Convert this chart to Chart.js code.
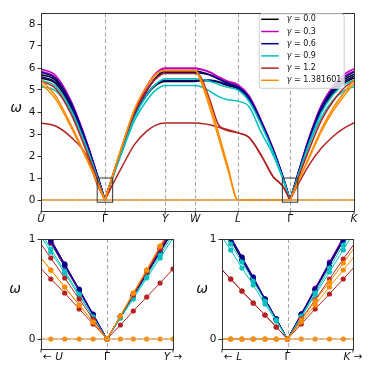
<!DOCTYPE html>
<html>
<head>
<meta charset="utf-8">
<script src="https://cdn.jsdelivr.net/npm/chart.js@4.4.1/dist/chart.umd.min.js"></script>
<style>
  body { margin: 0; background: #fff; }
  canvas { position: absolute; }
</style>
</head>
<body>
<canvas id="topChart" width="374" height="232" style="left:0;top:0"></canvas>
<canvas id="leftChart" width="187" height="146" style="left:0;top:228px"></canvas>
<canvas id="rightChart" width="187" height="146" style="left:187px;top:228px"></canvas>
<script>
// ---- labels / colours ----
const gammaLabels = ['0.0', '0.3', '0.6', '0.9', '1.2', '1.381601'];
const gammaColors = ['#000000', '#c000c0', '#00008b', '#00c0c0', '#b22222', '#ff8c00'];

// high symmetry points along the path
const symK = [0, 1.0607, 2.0607, 2.5607, 3.2678, 4.1338, 5.1945];
const symLabels = ['U', 'Γ', 'Y', 'W', 'L', 'Γ', 'K'];
const yTicksTop = [0, 1, 2, 3, 4, 5, 6, 7, 8];

// k grid of the full path (top panel)
const topK = [0, 0.25, 0.5, 0.75, 0.95, 1.03, 1.0607, 1.09, 1.16, 1.35, 1.55, 1.75, 1.9, 2.0607,
  2.5607, 2.65, 2.8, 2.95, 3.1, 3.2678, 3.45, 3.65, 3.85, 4.02, 4.10, 4.1338,
  4.165, 4.25, 4.45, 4.65, 4.85, 5.05, 5.1945];

// bands, two per gamma
const g00b1 = [5.71,5.42,4.33,2.62,0.97,0.28,0,0.25,0.84,2.4,3.95,4.95,5.55,5.86, 5.86,5.82,5.7,5.5,5.3,5.1, 4.62,3.55,2.3,1.0,0.3,0, 0.28,1.05,2.75,4.15,5.0,5.5,5.71];
const g00b2 = [5.55,5.27,4.2,2.55,0.95,0.27,0,0.24,0.82,2.3,3.8,4.75,5.2,5.39, 5.39,5.42,5.42,5.35,5.2,5.06, 4.58,3.5,2.27,0.99,0.3,0, 0.27,1.0,2.65,4.0,4.85,5.35,5.55];
const g03b1 = [5.96,5.64,4.5,2.72,1.0,0.28,0,0.25,0.86,2.45,4.05,5.15,5.75,6.0, 6.0,5.95,5.82,5.6,5.4,5.25, 4.75,3.65,2.35,1.02,0.31,0, 0.29,1.07,2.85,4.3,5.2,5.75,5.96];
const g03b2 = [5.86,5.55,4.43,2.68,0.99,0.27,0,0.25,0.85,2.42,4.0,5.1,5.7,5.97, 5.97,5.93,5.8,5.57,5.37,5.22, 4.7,3.6,2.33,1.01,0.3,0, 0.28,1.05,2.8,4.22,5.12,5.66,5.86];
const g06b1 = [5.81,5.5,4.4,2.66,0.99,0.28,0,0.25,0.84,2.4,3.95,4.95,5.5,5.78, 5.78,5.76,5.68,5.5,5.32,5.15, 4.68,3.6,2.32,1.0,0.3,0, 0.29,1.06,2.8,4.2,5.08,5.6,5.81];
const g06b2 = [5.62,5.33,4.27,2.6,0.97,0.27,0,0.24,0.83,2.35,3.85,4.8,5.25,5.43, 5.43,5.45,5.45,5.38,5.24,5.1, 4.6,3.52,2.28,0.99,0.3,0, 0.28,1.03,2.7,4.07,4.92,5.42,5.62];
const g09b1 = [5.45,5.15,4.1,2.45,0.89,0.25,0,0.24,0.8,2.3,3.75,4.75,5.25,5.51, 5.51,5.48,5.4,5.25,5.12,5.0, 4.5,3.45,2.2,0.95,0.28,0, 0.27,0.98,2.6,3.95,4.8,5.28,5.45];
const g09b2 = [5.15,4.95,4.0,2.42,0.88,0.25,0,0.23,0.78,2.2,3.6,4.5,4.98,5.2, 5.2,5.15,4.95,4.7,4.56,4.49, 4.25,3.1,2.05,0.9,0.27,0, 0.26,0.95,2.5,3.75,4.55,5.0,5.15];
const g12b1 = [5.40,5.05,3.9,2.25,0.82,0.23,0,0.25,0.85,2.45,3.95,4.95,5.5,5.75, 5.75,5.6,4.57,3.4,3.2,3.05, 2.85,2.05,1.07,0.6,0.18,0, 0.22,0.85,2.3,3.6,4.5,5.15,5.40];
const g12b2 = [3.5,3.35,2.85,2.05,0.6,0.17,0,0.15,0.55,1.54,2.52,3.12,3.39,3.5, 3.5,3.48,3.42,3.3,3.15,3.05, 2.85,2.05,1.07,0.6,0.18,0, 0.17,0.62,1.6,2.35,2.9,3.3,3.5];
const g13b1 = [5.45,4.7,3.4,1.95,0.69,0.19,0,0.26,0.87,2.5,4.1,5.15,5.7,5.89, 5.89,5.5,4.4,3.0,1.55,0, 0,0,0,0,0,0, 0.19,0.73,1.97,3.2,4.2,4.95,5.45];
const g13b2 = [5.3,4.55,3.3,1.9,0.69,0.19,0,0.26,0.87,2.5,4.1,5.15,5.7,5.89, 5.89,5.4,4.2,2.8,1.4,0, 0,0,0,0,0,0, 0.19,0.73,1.9,3.1,4.05,4.8,5.3];
const zeroTop = [0, 0];
const zeroTopK = [0, 5.1945];

// zoom near Gamma: U <- Gamma -> Y (k measured from Gamma)
const leftK = [-0.136, -0.109, -0.082, -0.054, -0.027, 0, 0.026, 0.051, 0.077, 0.103, 0.128, 0.154];
const lg00b1 = [1.22,.98,.74,.49,.24,0,.22,.44,.66,.89,1.10,1.32];
const lg00b2 = [1.20,.96,.72,.48,.24,0,.22,.43,.65,.87,1.08,1.29];
const lg03b1 = [1.24,.99,.75,.49,.25,0,.23,.45,.68,.91,1.13,1.36];
const lg03b2 = [1.21,.97,.73,.48,.24,0,.23,.45,.68,.91,1.13,1.36];
const lg06b1 = [1.25,1.0,.75,.50,.25,0,.22,.43,.65,.88,1.09,1.31];
const lg06b2 = [1.22,.98,.74,.49,.24,0,.22,.43,.65,.87,1.08,1.29];
const lg09b1 = [1.13,.90,.68,.45,.22,0,.21,.42,.63,.84,1.05,1.26];
const lg09b2 = [1.09,.87,.66,.43,.22,0,.21,.40,.61,.81,1.01,1.22];
const lg12b1 = [1.01,.81,.61,.40,.20,0,.23,.44,.67,.90,1.11,1.34];
const lg12b2 = [.75,.60,.46,.30,.15,0,.14,.28,.42,.56,.70,.84];
const lg13b1 = [.86,.69,.52,.34,.17,0,.23,.46,.69,.93,1.15,1.39];
const lg13b2 = [.86,.69,.52,.34,.17,0,.23,.46,.69,.93,1.15,1.39];
const leftZero = [0,0,0,0,0,0,0,0,0,0,0,0];

// zoom near Gamma: L <- Gamma -> K
const rightK = [-0.133, -0.111, -0.089, -0.067, -0.044, -0.022, 0, 0.027, 0.054, 0.082, 0.109, 0.136, 0.163];
const rg00b1 = [1.20,1.0,.80,.60,.40,.20,0,.25,.50,.75,1.0,1.25,1.5];
const rg00b2 = [1.18,.99,.79,.60,.39,.20,0,.24,.49,.74,.98,1.22,1.47];
const rg03b1 = [1.22,1.02,.82,.62,.40,.20,0,.25,.51,.77,1.02,1.28,1.53];
const rg03b2 = [1.21,1.01,.81,.61,.40,.20,0,.25,.50,.76,1.01,1.26,1.52];
const rg06b1 = [1.22,1.02,.82,.62,.40,.20,0,.25,.50,.76,1.01,1.26,1.52];
const rg06b2 = [1.2,1.0,.80,.60,.40,.20,0,.24,.49,.74,.98,1.22,1.47];
const rg09b1 = [1.14,.95,.77,.58,.38,.19,0,.23,.46,.71,.94,1.17,1.40];
const rg09b2 = [1.06,.89,.71,.54,.35,.18,0,.22,.44,.67,.89,1.12,1.34];
const rg12b1 = [.72,.60,.48,.36,.24,.12,0,.20,.39,.60,.80,.99,1.19];
const rg12b2 = [.72,.60,.48,.36,.24,.12,0,.15,.30,.45,.60,.75,.90];
const rg13b1 = [0,0,0,0,0,0,0,.17,.34,.52,.69,.86,1.03];
const rg13b2 = [0,0,0,0,0,0,0,.19,.38,.57,.76,.95,1.14];
const rightZero = [0,0,0,0,0,0,0,0,0,0,0,0,0];

const topBands = [[g00b1, g00b2], [g03b1, g03b2], [g06b1, g06b2], [g09b1, g09b2], [g12b1, g12b2], [g13b1, g13b2]];
const leftBands = [[lg00b1, lg00b2], [lg03b1, lg03b2], [lg06b1, lg06b2], [lg09b1, lg09b2], [lg12b1, lg12b2], [lg13b1, lg13b2]];
const rightBands = [[rg00b1, rg00b2], [rg03b1, rg03b2], [rg06b1, rg06b2], [rg09b1, rg09b2], [rg12b1, rg12b2], [rg13b1, rg13b2]];

const FONT = 'DejaVu Sans';
const GRAY = '#a8a8a8';
const FRAME = '#333333';

function pts(ks, vs) {
  return ks.map((k, i) => ({ x: k, y: vs[i] }));
}

function buildSets(ks, bands, zero, zeroK, marks) {
  const sets = [];
  bands.forEach((pair, g) => {
    pair.forEach((vals, b) => {
      sets.push({
        label: 'γ = ' + gammaLabels[g],
        data: pts(ks, vals),
        borderColor: gammaColors[g],
        backgroundColor: gammaColors[g],
        borderWidth: marks ? 1 : 1.5,
        pointRadius: marks ? 2.6 : 0,
        pointBorderWidth: 0,
        cubicInterpolationMode: marks ? 'default' : 'monotone',
        tension: 0,
        order: 20 - g * 2 - b
      });
    });
  });
  sets.push({
    label: 'zero',
    data: pts(zeroK, zero),
    borderColor: gammaColors[5],
    backgroundColor: gammaColors[5],
    borderWidth: marks ? 1 : 1.5,
    pointRadius: marks ? 2.6 : 0,
    pointBorderWidth: 0,
    order: 0
  });
  return sets;
}

// draw text where some parts are italic, centred (or left aligned) at cx
function drawMixed(ctx, parts, cx, cy, size, align) {
  let w = 0;
  parts.forEach(p => { ctx.font = (p.it ? 'italic ' : '') + size + 'px ' + FONT; w += ctx.measureText(p.t).width; });
  let x = align === 'left' ? cx : cx - w / 2;
  ctx.textAlign = 'left';
  parts.forEach(p => {
    ctx.font = (p.it ? 'italic ' : '') + size + 'px ' + FONT;
    ctx.fillText(p.t, x, cy);
    x += ctx.measureText(p.t).width;
  });
}

const decor = {
  id: 'decor',
  beforeDatasetsDraw(chart, args, o) {
    const { ctx, chartArea: a, scales: { x } } = chart;
    ctx.save();
    ctx.strokeStyle = GRAY; ctx.lineWidth = 1.1; ctx.setLineDash([4, 2.5]);
    o.vlines.forEach(v => {
      const px = Math.round(x.getPixelForValue(v)) + 0.5;
      ctx.beginPath(); ctx.moveTo(px, a.top); ctx.lineTo(px, a.bottom); ctx.stroke();
    });
    ctx.restore();
  },
  afterDatasetsDraw(chart, args, o) {
    const { ctx, chartArea: a, scales: { x, y } } = chart;
    ctx.save();
    ctx.strokeStyle = GRAY; ctx.lineWidth = 1.1; ctx.setLineDash([4, 2.5]);
    const py0 = y.getPixelForValue(0);
    ctx.beginPath(); ctx.moveTo(a.left, py0); ctx.lineTo(a.right, py0); ctx.stroke();
    ctx.setLineDash([]);
    ctx.strokeStyle = FRAME; ctx.lineWidth = 1;
    (o.boxes || []).forEach(b => {
      const x1 = x.getPixelForValue(b[0]), x2 = x.getPixelForValue(b[1]);
      const y1 = y.getPixelForValue(b[3]), y2 = y.getPixelForValue(b[2]);
      ctx.strokeRect(x1, y1, x2 - x1, y2 - y1);
    });
    ctx.strokeRect(Math.round(a.left) + 0.5, Math.round(a.top) + 0.5, Math.round(a.right - a.left), Math.round(a.bottom - a.top));
    // x ticks and labels
    ctx.fillStyle = '#111'; ctx.textBaseline = 'middle';
    o.xlabels.forEach(lb => {
      const px = x.getPixelForValue(lb.v);
      ctx.beginPath(); ctx.moveTo(px, a.bottom); ctx.lineTo(px, a.bottom + 3.5); ctx.stroke();
      const tx = lb.align === 'left' ? a.left + (lb.dx || 0) : px;
      drawMixed(ctx, lb.parts, tx, a.bottom + o.labelDy, 10.5, lb.align);
    });
    ctx.font = 'italic 14px ' + FONT; ctx.textAlign = 'center';
    ctx.fillText('ω', o.omegaX, (a.top + a.bottom) / 2 + o.omegaDy);
    ctx.restore();
  }
};

const legendBox = {
  id: 'legendBox',
  afterDraw(chart) {
    const { ctx, chartArea: a } = chart;
    const w = 85, h = 74.5;
    const x0 = a.right - 10.3 - w, y0 = a.top + 0.3;
    ctx.save();
    ctx.fillStyle = 'rgba(255,255,255,0.8)';
    ctx.strokeStyle = '#cccccc'; ctx.lineWidth = 1;
    ctx.beginPath(); ctx.roundRect(x0 + 0.5, y0 + 0.5, w, h, 2.5); ctx.fill(); ctx.stroke();
    ctx.textBaseline = 'middle'; ctx.fillStyle = '#111';
    gammaLabels.forEach((g, i) => {
      const yy = y0 + 6 + i * 12.2;
      ctx.strokeStyle = gammaColors[i]; ctx.lineWidth = 1.5;
      ctx.beginPath(); ctx.moveTo(x0 + 2.5, yy); ctx.lineTo(x0 + 20, yy); ctx.stroke();
      drawMixed(ctx, [{ t: 'γ', it: true }, { t: ' = ' + g, it: false }], x0 + 28, yy, 8, 'left');
    });
    ctx.restore();
  }
};

function yScale(min, max, ticks, width) {
  return {
    min: min, max: max,
    afterBuildTicks(s) { s.ticks = ticks.map(v => ({ value: v })); },
    afterFit(s) { s.width = width; },
    grid: { drawOnChartArea: false, drawTicks: true, tickLength: 3.5, tickColor: FRAME, tickWidth: 1 },
    border: { display: false },
    ticks: { color: '#111', padding: 2, font: { family: FONT, size: 10.5 } }
  };
}

const common = {
  responsive: false,
  animation: false,
  events: [],
  plugins: { legend: { display: false }, tooltip: { enabled: false } }
};

// ---- top panel ----
new Chart(document.getElementById('topChart'), {
  type: 'line',
  data: { datasets: buildSets(topK, topBands, zeroTop, zeroTopK, false) },
  options: Object.assign({}, common, {
    layout: { padding: { top: 13, right: 20, bottom: 21, left: 0 } },
    scales: {
      x: { type: 'linear', display: false, min: symK[0], max: symK[6] },
      y: yScale(-0.5, 8.5, yTicksTop, 41)
    },
    plugins: Object.assign({}, common.plugins, {
      decor: {
        vlines: symK.slice(1, 6),
        boxes: [[symK[1] - 0.128, symK[1] + 0.128, -0.1, 1], [symK[5] - 0.128, symK[5] + 0.128, -0.1, 1]],
        xlabels: symK.map((v, i) => ({ v: v, parts: [{ t: symLabels[i], it: symLabels[i] !== 'Γ' }] })),
        labelDy: 8, omegaX: 16, omegaDy: -4
      }
    })
  }),
  plugins: [decor, legendBox]
});

// ---- bottom panels ----
function zoomChart(id, ks, bands, zero, yWidth, padRight, leftLab, rightLab) {
  new Chart(document.getElementById(id), {
    type: 'line',
    data: { datasets: buildSets(ks, bands, zero, ks, true) },
    options: Object.assign({}, common, {
      layout: { padding: { top: 11, right: padRight, bottom: 25, left: 0 } },
      scales: {
        x: { type: 'linear', display: false, min: -0.128, max: 0.128 },
        y: yScale(-0.1, 1, [0, 1], yWidth)
      },
      plugins: Object.assign({}, common.plugins, {
        decor: {
          vlines: [0],
          xlabels: [
            { v: -0.128, align: 'left', dx: 2, parts: [{ t: '← ', it: false }, { t: leftLab, it: true }] },
            { v: 0, parts: [{ t: 'Γ', it: false }] },
            { v: 0.128, parts: [{ t: rightLab, it: true }, { t: ' →', it: false }] }
          ],
          labelDy: 8, omegaX: 15, omegaDy: -5
        }
      })
    }),
    plugins: [decor]
  });
}
zoomChart('leftChart', leftK, leftBands, leftZero, 41, 14, 'U', 'Y');
zoomChart('rightChart', rightK, rightBands, rightZero, 35, 21, 'L', 'K');
</script>
</body>
</html>
